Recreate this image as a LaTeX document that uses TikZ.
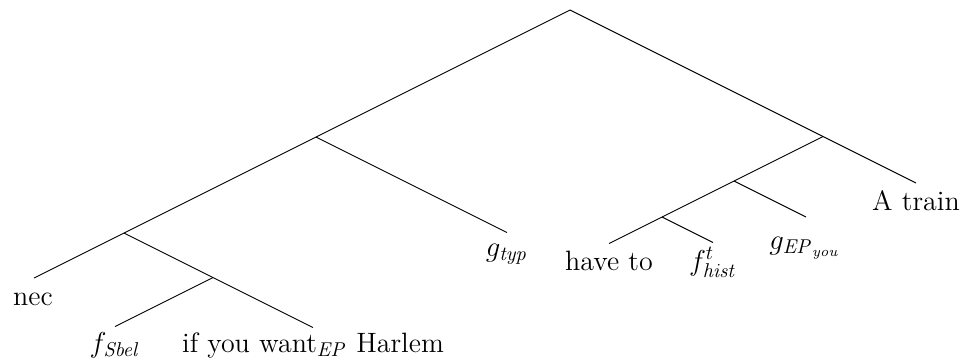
\documentclass[tikz,border=0pt]{standalone}
\begin{document}
\begin{tikzpicture}[x=0.5pt,y=-0.5pt,
  edge/.style={draw=black, line width=0.45pt},
  leaf/.style={anchor=base, inner sep=0pt, outer sep=0pt, font=\fontsize{14}{17}\selectfont}]
\useasboundingbox (0,0) rectangle (964,360);

% branching points
\coordinate (root) at (570,10);
\coordinate (l1) at (316,137);
\coordinate (l2) at (124,233);
\coordinate (l3) at (213,277.5);
\coordinate (r1) at (823,136.5);
\coordinate (r2) at (734,181);
\coordinate (r3) at (662,217);

% ends of the branches above the leaves
\coordinate (e-nec) at (34,278);
\coordinate (e-fs) at (115,326.5);
\coordinate (e-if) at (313,327.5);
\coordinate (e-gt) at (507,232.5);
\coordinate (e-have) at (609,243.5);
\coordinate (e-fh) at (713,242.5);
\coordinate (e-gep) at (806,217);
\coordinate (e-train) at (916,183);

% leaves
\node[leaf] (nec)   at (33,305)    {nec};
\node[leaf] (fs)    at (115,352.5) {$f_{\mathit{Sbel}}$};
\node[leaf] (ifh)   at (313,352.5) {if you want$_{\mathit{EP}}$ Harlem};
\node[leaf] (gt)    at (507,256)   {$g_{\mathit{typ}}$};
\node[leaf] (have)  at (609,270.5) {have to};
\node[leaf] (fh)    at (713,270)   {$f^{t}_{\mathit{hist}}$};
\node[leaf] (gep)   at (805,249)   {$g_{\mathit{EP}_{\mathit{you}}}$};
\node[leaf] (train) at (916,210)   {A train};

% branches
\draw[edge] (root) -- (l1) -- (l2) -- (e-nec);
\draw[edge] (l1) -- (e-gt);
\draw[edge] (l2) -- (l3) -- (e-if);
\draw[edge] (l3) -- (e-fs);
\draw[edge] (root) -- (r1) -- (e-train);
\draw[edge] (r1) -- (r2) -- (r3) -- (e-have);
\draw[edge] (r2) -- (e-gep);
\draw[edge] (r3) -- (e-fh);
\end{tikzpicture}
\end{document}
